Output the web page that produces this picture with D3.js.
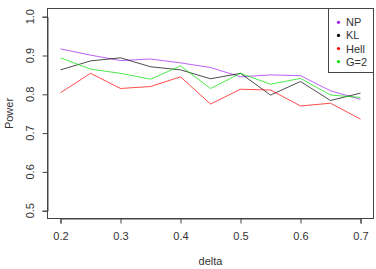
<!DOCTYPE html>
<html>
<head>
<meta charset="utf-8">
<script src="https://cdn.jsdelivr.net/npm/d3@7"></script>
<style>
  body { margin: 0; background: #fff; }
  svg { display: block; font-family: "Liberation Sans", Arial, sans-serif; }
</style>
</head>
<body>
<svg id="chart" width="376" height="269"></svg>
<script>
// delta values along the x axis
const deltas = [0.2, 0.25, 0.3, 0.35, 0.4, 0.45, 0.5, 0.55, 0.6, 0.65, 0.7];
const xTicks = [0.2, 0.3, 0.4, 0.5, 0.6, 0.7];
const yTicks = [0.5, 0.6, 0.7, 0.8, 0.9, 1.0];

// power per method
const powerNP   = [0.917, 0.901, 0.887, 0.891, 0.881, 0.869, 0.845, 0.850, 0.848, 0.809, 0.787];
const powerKL   = [0.863, 0.886, 0.894, 0.871, 0.863, 0.840, 0.854, 0.798, 0.833, 0.784, 0.803];
const powerHell = [0.804, 0.854, 0.815, 0.820, 0.845, 0.775, 0.813, 0.811, 0.770, 0.777, 0.736];
const powerG2   = [0.894, 0.865, 0.854, 0.839, 0.873, 0.815, 0.854, 0.826, 0.841, 0.798, 0.792];

const seriesNames = ['NP', 'KL', 'Hell', 'G=2'];
const seriesValues = [powerNP, powerKL, powerHell, powerG2];
const seriesColors = ['#a020f0', '#000000', '#ff0000', '#00e000'];

const svg = d3.select('#chart');
const axisColor = '#444';
const textColor = '#333';

const x = d3.scaleLinear().domain([0.2, 0.7]).range([60.5, 360.5]);
const y = d3.scaleLinear().domain([0.5, 1.0]).range([210.7, 16.7]);

const box = { left: 47.5, right: 373.5, top: 8.5, bottom: 218.5 };

// plot box
svg.append('rect')
  .attr('x', box.left).attr('y', box.top)
  .attr('width', box.right - box.left).attr('height', box.bottom - box.top)
  .attr('fill', 'none').attr('stroke', axisColor).attr('stroke-width', 1);

// x axis
const xAxis = svg.append('g').attr('transform', `translate(0,${box.bottom})`)
  .call(d3.axisBottom(x).tickValues(xTicks).tickSize(5).tickPadding(9)
    .tickFormat(d3.format('.1f')));
xAxis.select('.domain').attr('stroke', axisColor);
xAxis.selectAll('.tick line').attr('stroke', axisColor);
xAxis.selectAll('.tick text').attr('fill', textColor).attr('font-size', 11)
  .attr('font-family', '"Liberation Sans", Arial, sans-serif');

// y axis
const yAxis = svg.append('g').attr('transform', `translate(${box.left},0)`)
  .call(d3.axisLeft(y).tickValues(yTicks).tickSize(5).tickFormat(''));
yAxis.select('.domain').attr('stroke', axisColor);
yAxis.selectAll('.tick line').attr('stroke', axisColor);

svg.append('g').selectAll('text')
  .data(yTicks)
  .enter().append('text')
    .attr('transform', d => `translate(34,${y(d)}) rotate(-90)`)
    .attr('text-anchor', 'middle')
    .attr('font-size', 11)
    .attr('fill', textColor)
    .text(d3.format('.1f'));

// axis titles
svg.append('text')
  .attr('x', (box.left + box.right) / 2).attr('y', 265)
  .attr('text-anchor', 'middle').attr('font-size', 11).attr('fill', textColor)
  .text('delta');
svg.append('text')
  .attr('transform', `translate(13,${(box.top + box.bottom) / 2}) rotate(-90)`)
  .attr('text-anchor', 'middle').attr('font-size', 11).attr('fill', textColor)
  .text('Power');

// lines
const line = d3.line()
  .x((d, i) => x(deltas[i]))
  .y(d => y(d));

svg.append('g').selectAll('path')
  .data(seriesValues)
  .enter().append('path')
    .attr('d', line)
    .attr('fill', 'none')
    .attr('stroke', (d, i) => seriesColors[i])
    .attr('stroke-opacity', 0.7)
    .attr('stroke-width', 1);

// legend
const legend = svg.append('g');
legend.append('rect')
  .attr('x', 328.5).attr('y', box.top)
  .attr('width', box.right - 328.5).attr('height', 64)
  .attr('fill', '#fff').attr('stroke', axisColor).attr('stroke-width', 1);
const items = legend.selectAll('g.item')
  .data(seriesNames)
  .enter().append('g')
    .attr('transform', (d, i) => `translate(0,${22.3 + i * 13.1})`);
items.append('circle')
  .attr('cx', 338.5).attr('cy', 0).attr('r', 1.6)
  .attr('fill', (d, i) => seriesColors[i]);
items.append('text')
  .attr('x', 346).attr('y', 4)
  .attr('font-size', 11).attr('fill', textColor)
  .text(d => d);
</script>
</body>
</html>
